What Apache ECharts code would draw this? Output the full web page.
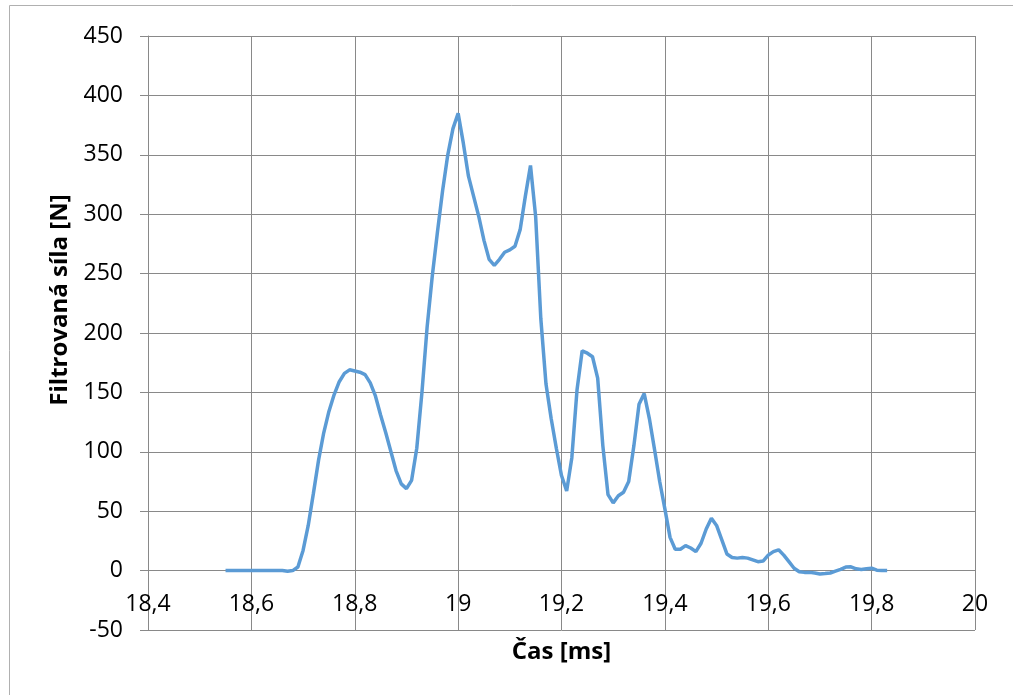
<!DOCTYPE html>
<html>
<head>
<meta charset="utf-8">
<script src="https://cdn.jsdelivr.net/npm/echarts@6/dist/echarts.min.js"></script>
<style>
html,body{margin:0;padding:0;background:#fff;}
#chart{width:1013px;height:695px;}
</style>
</head>
<body>
<div id="chart"></div>
<script>
// Time axis [ms]
const times = [
  18.55, 18.56, 18.57, 18.58, 18.59, 18.60, 18.61, 18.62, 18.63, 18.64,
  18.65, 18.66, 18.67, 18.68, 18.69, 18.70, 18.71, 18.72, 18.73, 18.74,
  18.75, 18.76, 18.77, 18.78, 18.79, 18.80, 18.81, 18.82, 18.83, 18.84,
  18.85, 18.86, 18.87, 18.88, 18.89, 18.90, 18.91, 18.92, 18.93, 18.94,
  18.95, 18.96, 18.97, 18.98, 18.99, 19.00, 19.01, 19.02, 19.03, 19.04,
  19.05, 19.06, 19.07, 19.08, 19.09, 19.10, 19.11, 19.12, 19.13, 19.14,
  19.15, 19.16, 19.17, 19.18, 19.19, 19.20, 19.21, 19.22, 19.23, 19.24,
  19.25, 19.26, 19.27, 19.28, 19.29, 19.30, 19.31, 19.32, 19.33, 19.34,
  19.35, 19.36, 19.37, 19.38, 19.39, 19.40, 19.41, 19.42, 19.43, 19.44,
  19.45, 19.46, 19.47, 19.48, 19.49, 19.50, 19.51, 19.52, 19.53, 19.54,
  19.55, 19.56, 19.57, 19.58, 19.59, 19.60, 19.61, 19.62, 19.63, 19.64,
  19.65, 19.66, 19.67, 19.68, 19.69, 19.70, 19.71, 19.72, 19.73, 19.74,
  19.75, 19.76, 19.77, 19.78, 19.79, 19.80, 19.81, 19.82, 19.83
];
// Filtered force [N]
const force = [
  0, 0, 0, 0, 0, 0, 0, 0, 0, 0,
  0, 0, -0.5, 0, 3, 17, 38, 65, 93, 116,
  134, 148, 159, 166, 169, 168, 167, 165, 158, 147,
  131, 116, 100, 84, 73, 69, 76, 103, 150, 205,
  248, 285, 320, 350, 372, 385, 360, 332, 315, 298,
  278, 262, 257, 262, 268, 270, 273, 287, 315, 341,
  298, 212, 157, 128, 103, 80, 67, 95, 152, 185,
  183, 180, 162, 105, 64, 57, 63, 66, 75, 105,
  140, 149, 128, 102, 75, 52, 28, 18, 18, 21,
  19, 16, 23, 35, 44, 38, 26, 14, 11, 10.5,
  11, 10.5, 9, 7.5, 8, 13, 16, 17.5, 13, 7.5,
  2, -1, -1.5, -1.5, -2, -2.8, -2.5, -2, -0.5, 1,
  3, 3.2, 1.5, 1, 1.5, 2, 0.3, 0, 0
];
const xTitle = 'Čas [ms]';
const yTitle = 'Filtrovaná síla [N]';

const FONT = '"Open Sans", "Noto Sans", "DejaVu Sans", sans-serif';
const GRID = '#898989';

const chart = echarts.init(document.getElementById('chart'), null, {renderer: 'canvas'});
chart.setOption({
  backgroundColor: '#ffffff',
  animation: false,
  grid: {left: 148, top: 36, width: 827, height: 594, containLabel: false, outerBoundsMode: 'none'},
  xAxis: {
    type: 'value',
    position: 'bottom',
    offset: -59.4,
    min: 18.4, max: 20, interval: 0.2,
    name: xTitle,
    nameLocation: 'middle',
    nameGap: 70,
    nameTextStyle: {fontFamily: FONT, fontSize: 24, fontWeight: 'bold', color: '#000'},
    axisLine: {show: true, onZero: false, lineStyle: {color: GRID, width: 1}},
    axisTick: {show: true, length: 8, lineStyle: {color: GRID}},
    axisLabel: {
      margin: 22,
      fontFamily: FONT, fontSize: 23, color: '#000',
      formatter: v => String(Number(v.toFixed(1))).replace('.', ',')
    },
    splitLine: {show: true, lineStyle: {color: GRID, width: 1}}
  },
  yAxis: {
    type: 'value',
    min: -50, max: 450, interval: 50,
    axisLine: {show: true, onZero: false, lineStyle: {color: GRID, width: 1}},
    axisTick: {show: true, length: 8, lineStyle: {color: GRID}},
    axisLabel: {margin: 25, fontFamily: FONT, fontSize: 23, color: '#000'},
    splitLine: {show: true, lineStyle: {color: GRID, width: 1}}
  },
  graphic: [
    {type: 'line', shape: {x1: 9.5, y1: 5.5, x2: 1013, y2: 5.5}, style: {stroke: '#b0b0b0', lineWidth: 1}, silent: true},
    {type: 'line', shape: {x1: 9.5, y1: 5.5, x2: 9.5, y2: 695}, style: {stroke: '#b0b0b0', lineWidth: 1}, silent: true},
    {type: 'text', x: 60, y: 300, rotation: Math.PI / 2,
     style: {text: yTitle, align: 'center', verticalAlign: 'middle',
             font: 'bold 24px ' + FONT, fill: '#000'}, silent: true}
  ],
  series: [{
    type: 'line',
    data: times.map((t, i) => [t, force[i]]),
    showSymbol: false,
    smooth: false,
    lineStyle: {color: '#5B9BD5', width: 3.5},
    itemStyle: {color: '#5B9BD5'}
  }]
});
</script>
</body>
</html>
